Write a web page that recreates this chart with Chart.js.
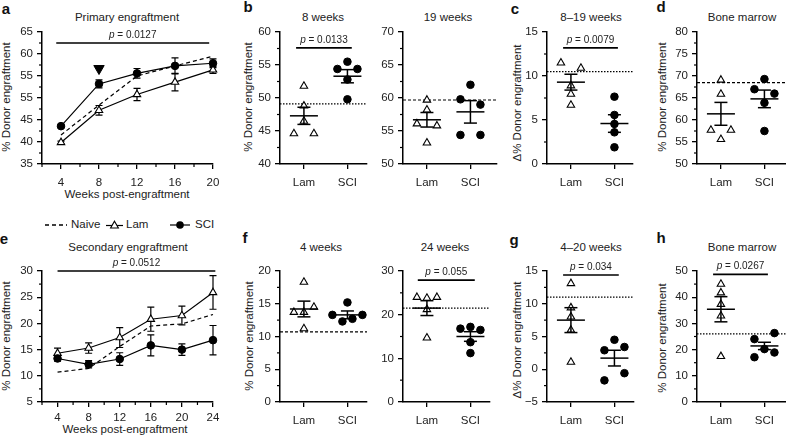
<!DOCTYPE html>
<html>
<head>
<meta charset="utf-8">
<script src="https://cdn.jsdelivr.net/npm/chart.js@4.4.1/dist/chart.umd.min.js"></script>
<style>
  html, body { margin: 0; padding: 0; background: #fff; }
  body { width: 786px; height: 437px; overflow: hidden; position: relative;
         font-family: "Liberation Sans", Arial, Helvetica, sans-serif; color: #222; }
  canvas { position: absolute; }
  .t { position: absolute; white-space: nowrap; transform: translate(-50%, -50%); font-size: 11.5px; line-height: 1; }
  .yt { position: absolute; white-space: nowrap; transform: translate(-50%, -50%) rotate(-90deg); font-size: 11.5px; line-height: 1; }
  .lt { position: absolute; transform: translate(-50%, -50%); font-weight: bold; font-size: 15px; line-height: 1; color: #111; }
  .lg { position: absolute; transform: translateY(-50%); font-size: 11.5px; line-height: 1; top: 225px; }
  svg { position: absolute; }
</style>
</head>
<body>
<!-- panel letters -->
<div class="lt" style="left:6px;top:8px">a</div>
<div class="lt" style="left:248px;top:6px">b</div>
<div class="lt" style="left:515px;top:8px">c</div>
<div class="lt" style="left:661px;top:6px">d</div>
<div class="lt" style="left:4px;top:238px">e</div>
<div class="lt" style="left:245px;top:237px">f</div>
<div class="lt" style="left:514px;top:239px">g</div>
<div class="lt" style="left:661px;top:237px">h</div>

<!-- titles -->
<div class="t" style="left:127px;top:18px">Primary engraftment</div>
<div class="t" style="left:323px;top:18px">8 weeks</div>
<div class="t" style="left:448px;top:18px">19 weeks</div>
<div class="t" style="left:591px;top:18px">8–19 weeks</div>
<div class="t" style="left:742px;top:18px">Bone marrow</div>
<div class="t" style="left:128px;top:248px">Secondary engraftment</div>
<div class="t" style="left:321px;top:248px">4 weeks</div>
<div class="t" style="left:445px;top:248px">24 weeks</div>
<div class="t" style="left:591px;top:248px">4–20 weeks</div>
<div class="t" style="left:742px;top:248px">Bone marrow</div>
<div class="t" style="left:127px;top:195px">Weeks post-engraftment</div>
<div class="t" style="left:125px;top:430px">Weeks post-engraftment</div>

<!-- y axis titles -->
<div class="yt" style="left:7px;top:97px">% Donor engraftment</div>
<div class="yt" style="left:249px;top:97px">% Donor engraftment</div>
<div class="yt" style="left:518px;top:103px">Δ% Donor engraftment</div>
<div class="yt" style="left:663px;top:97px">% Donor engraftment</div>
<div class="yt" style="left:7px;top:336px">% Donor engraftment</div>
<div class="yt" style="left:250px;top:336px">% Donor engraftment</div>
<div class="yt" style="left:518px;top:340px">Δ% Donor engraftment</div>
<div class="yt" style="left:663px;top:338px">% Donor engraftment</div>

<!-- legend -->
<svg style="left:44px;top:219px" width="24" height="12"><line x1="1" y1="6" x2="23" y2="6" stroke="#000" stroke-width="1.3" stroke-dasharray="4,3"/></svg>
<span class="lg" style="left:71px">Naive</span>
<svg style="left:106px;top:219px" width="18" height="12"><line x1="0" y1="6.5" x2="17" y2="6.5" stroke="#000" stroke-width="1.2"/><polygon points="8.5,2.2 12.4,9 4.6,9" fill="#fff" stroke="#000" stroke-width="1.1"/></svg>
<span class="lg" style="left:126px">Lam</span>
<svg style="left:170px;top:219px" width="21" height="12"><line x1="0" y1="6" x2="20" y2="6" stroke="#000" stroke-width="1.2"/><circle cx="10" cy="6" r="3.8" fill="#000"/></svg>
<span class="lg" style="left:195px">SCI</span>

<script>
// ---------------- data ----------------
var weeksPrimary = [4, 8, 12, 16, 20];
var weeksSecondary = [4, 8, 12, 16, 20, 24];
var groupLabels = ["Lam", "SCI"];

// a: primary engraftment over time
var aNaive = [41.6, 48.4, 55.0, 57.3, 59.5];
var aLam = [39.9, 47.2, 50.8, 53.6, 56.4];
var aLamSem = [0.3, 1.1, 1.4, 2.0, 0.8];
var aSci = [43.6, 53.2, 55.6, 57.3, 57.9];
var aSciSem = [0.3, 0.9, 1.1, 1.8, 1.0];
var aArrow = [{ x: 8, y: 56.7 }];
var aP = { y: 62.5, from: 3.5, to: 19.6, text: "0.0127" };
var aYTicks = [35, 40, 45, 50, 55, 60, 65];
var aYLabels = ["35", "40", "45", "55", "55", "60", "65"];

// b: 8 weeks / 19 weeks
var b8Lam = [51.8, 48.8, 46.5, 44.6, 44.6];
var b8Sci = [54.4, 55.5, 54.4, 52.8, 49.8];
var b8Mean = [47.3, 53.3];
var b8Sem = [1.3, 1.0];
var b8Naive = 49.1;
var b8P = { y: 57.6, from: 0.82, to: 2.1, text: "0.0133" };
var b8YTicks = [40, 45, 50, 55, 60];

var b19Lam = [58.2, 59.7, 56.1, 55.8, 53.2];
var b19Sci = [62.0, 59.8, 59.0, 54.4, 54.4];
var b19Mean = [56.7, 57.9];
var b19Sem = [1.1, 1.7];
var b19Naive = 59.7;
var b19YTicks = [50, 55, 60, 65, 70];

// c: change 8-19 weeks
var cLam = [11.5, 10.9, 8.9, 7.95, 6.7];
var cSci = [7.65, 5.57, 4.55, 3.6, 1.9];
var cMean = [9.3, 4.6];
var cSem = [0.9, 1.0];
var cNaive = 10.5;
var cP = { y: 13.2, from: 0.82, to: 2.08, text: "0.0079" };
var cYTicks = [0, 5, 10, 15];

// d: bone marrow (primary)
var dLam = [69.1, 65.9, 57.7, 57.7, 55.6];
var dSci = [69.3, 67.0, 66.0, 63.9, 57.5];
var dMean = [61.4, 64.8];
var dSem = [2.6, 2.0];
var dNaive = 68.5;
var dYTicks = [50, 55, 60, 65, 70, 75, 80];

// e: secondary engraftment over time
var eNaive = [10.7, 11.4, 15.6, 19.5, 19.9, 21.7];
var eLam = [14.3, 15.3, 17.3, 20.8, 21.5, 25.9];
var eLamSem = [1.0, 1.0, 1.9, 2.3, 1.8, 3.2];
var eSci = [13.3, 12.2, 13.2, 15.8, 15.0, 16.8];
var eSciSem = [0.5, 0.7, 1.2, 2.0, 1.1, 2.8];
var eP = { y: 30, from: 4, to: 24.3, text: "0.0512" };
var eYTicks = [5, 10, 15, 20, 25, 30];

// f: 4 weeks / 24 weeks
var f4Lam = [18.3, 13.7, 13.7, 14.5, 11.2];
var f4Sci = [15.2, 13.3, 12.3, 12.7, 13.3];
var f4Mean = [14.2, 13.3];
var f4Sem = [1.2, 0.6];
var f4Naive = 10.7;
var f4YTicks = [0, 5, 10, 15, 20];

var f24Lam = [24.0, 23.8, 24.0, 21.2, 14.7];
var f24Sci = [16.8, 17.2, 16.5, 13.7, 11.2];
var f24Mean = [21.5, 15.0];
var f24Sem = [1.7, 1.1];
var f24Naive = 21.5;
var f24P = { y: 27.9, from: 0.79, to: 2.1, text: "0.055" };
var f24YTicks = [0, 10, 20, 30];

// g: change 4-20 weeks
var gLam = [13.1, 9.4, 8.0, 6.0, 1.1];
var gSci = [4.5, 2.9, 3.4, -1.7, -0.6];
var gMean = [7.5, 1.7];
var gSem = [1.9, 1.2];
var gNaive = 11.0;
var gP = { y: 14.4, from: 0.82, to: 2.1, text: "0.034" };
var gYTicks = [-5, 0, 5, 10, 15];
var gYLabels = ["\u22125", "0", "5", "10", "15"];

// h: bone marrow (secondary)
var hLam = [41.7, 45.0, 37.3, 32.9, 17.4];
var hSci = [24.0, 26.3, 20.2, 17.1, 18.9];
var hMean = [35.4, 21.4];
var hSem = [4.8, 1.4];
var hNaive = 26.0;
var hP = { y: 48.7, from: 0.82, to: 2.08, text: "0.0267" };
var hYTicks = [0, 10, 20, 30, 40, 50];

// ---------------- layout ----------------
var FONT = "'Liberation Sans', Arial, Helvetica, sans-serif";
var Y_BAND = 40, X_BAND = 28, PAD_T = 14, PAD_R = 14;
var X_MIN = 0.45, CAT_PX = 43.5;      // category panels: px per category
var ROW_PX = 8, SLOT_PX = 10;         // dodge of overlapping dots
var MEAN_HALF_PX = 14, CAP_HALF_PX = 6.5;

Chart.defaults.font.family = FONT;
Chart.defaults.font.size = 11.5;
Chart.defaults.color = "#222";

var errorBarPlugin = {
  id: "errorBars",
  beforeDatasetsDraw: function (chart) {
    var ctx = chart.ctx, ys = chart.scales.y;
    chart.data.datasets.forEach(function (ds, i) {
      if (!ds.errors) return;
      var meta = chart.getDatasetMeta(i);
      ctx.save();
      ctx.strokeStyle = "#000";
      ctx.lineWidth = 1.2;
      meta.data.forEach(function (pt, j) {
        var v = ds.data[j].y, e = ds.errors[j];
        var top = ys.getPixelForValue(v + e), bot = ys.getPixelForValue(v - e);
        ctx.beginPath();
        ctx.moveTo(pt.x, top); ctx.lineTo(pt.x, bot);
        ctx.moveTo(pt.x - 3.5, top); ctx.lineTo(pt.x + 3.5, top);
        ctx.moveTo(pt.x - 3.5, bot); ctx.lineTo(pt.x + 3.5, bot);
        ctx.stroke();
      });
      ctx.restore();
    });
  }
};

var pTextPlugin = {
  id: "pText",
  afterDatasetsDraw: function (chart) {
    var ctx = chart.ctx, xs = chart.scales.x, ys = chart.scales.y;
    chart.data.datasets.forEach(function (ds) {
      if (!ds.pText) return;
      var cx = (xs.getPixelForValue(ds.data[0].x) + xs.getPixelForValue(ds.data[1].x)) / 2;
      var y = ys.getPixelForValue(ds.data[0].y) - 5;
      var rest = " = " + ds.pText;
      ctx.save();
      ctx.fillStyle = "#222";
      ctx.textAlign = "left";
      ctx.textBaseline = "alphabetic";
      ctx.font = "italic 10px " + FONT;
      var w1 = ctx.measureText("p").width;
      ctx.font = "10px " + FONT;
      var w2 = ctx.measureText(rest).width;
      var x0 = cx - (w1 + w2) / 2;
      ctx.font = "italic 10px " + FONT;
      ctx.fillText("p", x0, y);
      ctx.font = "10px " + FONT;
      ctx.fillText(rest, x0 + w1, y);
      ctx.restore();
    });
  }
};

var minorTickPlugin = {
  id: "minorTicks",
  afterDraw: function (chart, args, opts) {
    var ctx = chart.ctx, area = chart.chartArea;
    ctx.save();
    ctx.strokeStyle = "#000";
    ctx.lineWidth = 1.2;
    ["x", "y"].forEach(function (key) {
      var step = opts[key];
      if (!step) return;
      var sc = chart.scales[key];
      var majors = sc.ticks.map(function (t) { return t.value; });
      for (var k = 0; ; k++) {
        var v = sc.min + k * step;
        if (v > sc.max + 1e-9) break;
        if (majors.some(function (m) { return Math.abs(m - v) < 1e-6; })) continue;
        var p = sc.getPixelForValue(v);
        ctx.beginPath();
        if (key === "y") { ctx.moveTo(area.left - 3, p); ctx.lineTo(area.left, p); }
        else { ctx.moveTo(p, area.bottom); ctx.lineTo(p, area.bottom + 3); }
        ctx.stroke();
      }
    });
    ctx.restore();
  }
};

Chart.register(errorBarPlugin, pTextPlugin, minorTickPlugin);

function scaleOpts(min, max, values, labels, isX, pad) {
  return {
    type: "linear", min: min, max: max,
    afterBuildTicks: function (axis) {
      axis.ticks = values.map(function (v) { return { value: v }; });
    },
    afterFit: function (axis) {
      if (isX) axis.height = X_BAND; else axis.width = Y_BAND;
    },
    ticks: {
      autoSkip: false, maxRotation: 0, padding: pad, color: "#222",
      font: { size: 11.5 },
      callback: function (v, i) { return labels[i]; }
    },
    grid: { drawOnChartArea: false, drawTicks: true, tickLength: 5, color: "#000", lineWidth: 1.3 },
    border: { display: true, color: "#000", width: 1.5 }
  };
}

function seg(x1, y1, x2, y2, width, dash, order) {
  return {
    data: [{ x: x1, y: y1 }, { x: x2, y: y2 }],
    showLine: true, borderColor: "#000", borderWidth: width, borderDash: dash || [],
    pointRadius: 0, clip: false, order: order
  };
}

function markers(points, style, order) {
  var open = style === "triangle";
  return {
    data: points, showLine: false, clip: false, order: order,
    pointStyle: open ? "triangle" : "circle",
    pointRadius: open ? 4.3 : 3.8,
    pointBackgroundColor: open ? "#fff" : "#000",
    pointBorderColor: "#000",
    pointBorderWidth: open ? 1.1 : 1
  };
}

function pBar(p) {
  var ds = seg(p.from, p.y, p.to, p.y, 1.6, null, 3);
  ds.pText = p.text;
  return ds;
}

function makeChart(box, xScale, yScale, datasets, minor) {
  var c = document.createElement("canvas");
  var w = box.r - box.l + Y_BAND + PAD_R;
  var h = box.b - box.t + PAD_T + X_BAND;
  c.width = w; c.height = h;
  c.style.width = w + "px"; c.style.height = h + "px";
  c.style.left = (box.l - Y_BAND) + "px";
  c.style.top = (box.t - PAD_T) + "px";
  document.body.appendChild(c);
  new Chart(c, {
    type: "scatter",
    data: { datasets: datasets },
    options: {
      responsive: false, animation: false, events: [], devicePixelRatio: 1,
      layout: { padding: { left: 0, top: PAD_T, right: PAD_R, bottom: 0 }, autoPadding: false },
      plugins: { legend: { display: false }, tooltip: { enabled: false }, minorTicks: minor || {} },
      scales: { x: xScale, y: yScale }
    }
  });
}

// spread dots that share a value band into side-by-side slots
function dodge(values, pxPerUnit) {
  var idx = values.map(function (v, i) { return i; });
  idx.sort(function (a, b) { return values[a] - values[b] || a - b; });
  var off = values.map(function () { return 0; });
  var k = 0;
  while (k < idx.length) {
    var row = [idx[k]], start = values[idx[k]];
    k++;
    while (k < idx.length && (values[idx[k]] - start) * pxPerUnit < ROW_PX) { row.push(idx[k]); k++; }
    row.sort(function (a, b) { return a - b; });
    var n = row.length;
    row.forEach(function (p, i) {
      var slot = n === 2 ? (i === 0 ? -1 : 1) : i - (n - 1) / 2;
      off[p] = slot * SLOT_PX / CAT_PX;
    });
  }
  return off;
}

function timePanel(box, weeks, xMax, yMin, yMax, yTicks, yLabels, naive, lam, lamSem, sci, sciSem, p, arrow, xPad) {
  function pts(vals) { return vals.map(function (v, i) { return { x: weeks[i], y: v }; }); }
  var lamDs = markers(pts(lam), "triangle", 1);
  lamDs.showLine = true; lamDs.borderColor = "#000"; lamDs.borderWidth = 1.2; lamDs.errors = lamSem;
  var sciDs = markers(pts(sci), "circle", 0);
  sciDs.showLine = true; sciDs.borderColor = "#000"; sciDs.borderWidth = 1.2; sciDs.errors = sciSem;
  var naiveDs = { data: pts(naive), showLine: true, borderColor: "#000", borderWidth: 1.2,
    borderDash: [4, 3], pointRadius: 0, clip: false, order: 2 };
  var ds = [sciDs, lamDs, naiveDs, pBar(p)];
  if (arrow) {
    var a = markers(arrow, "circle", 0);
    a.pointStyle = "triangle"; a.pointRotation = 180; a.pointRadius = 6;
    ds.push(a);
  }
  makeChart(box,
    scaleOpts(2, xMax, weeks, weeks.map(String), true, xPad),
    scaleOpts(yMin, yMax, yTicks, yLabels, false, 4),
    ds, { x: 2, y: 2.5 });
}

function groupPanel(box, yMin, yMax, yTicks, yLabels, minorY, lam, sci, means, sems, naive, naiveDash, p) {
  var yPx = (box.b - box.t) / (yMax - yMin);
  var xMax = X_MIN + (box.r - box.l) / CAT_PX;
  var mh = MEAN_HALF_PX / CAT_PX, ch = CAP_HALF_PX / CAT_PX;
  var lamOff = dodge(lam, yPx), sciOff = dodge(sci, yPx);
  var ds = [];
  [0, 1].forEach(function (g) {
    var c = g + 1, m = means[g], s = sems[g];
    ds.push(seg(c - mh, m, c + mh, m, 1.5, null, 0));
    ds.push(seg(c, m - s, c, m + s, 1.5, null, 0));
    ds.push(seg(c - ch, m + s, c + ch, m + s, 1.5, null, 0));
    ds.push(seg(c - ch, m - s, c + ch, m - s, 1.5, null, 0));
  });
  ds.push(markers(lam.map(function (v, i) { return { x: 1 + lamOff[i], y: v }; }), "triangle", 1));
  ds.push(markers(sci.map(function (v, i) { return { x: 2 + sciOff[i], y: v }; }), "circle", 1));
  ds.push(seg(X_MIN, naive, xMax, naive, 1.2, naiveDash, 2));
  if (p) ds.push(pBar(p));
  makeChart(box,
    scaleOpts(X_MIN, xMax, [1, 2], groupLabels, true, 7),
    scaleOpts(yMin, yMax, yTicks, yLabels || yTicks.map(String), false, 4),
    ds, { y: minorY });
}

var DOTTED = [1.5, 1.5], DASHED = [3, 2];

// row 1
timePanel({ l: 42, r: 213, t: 32, b: 164 }, weeksPrimary, 20, 35, 65, aYTicks, aYLabels,
  aNaive, aLam, aLamSem, aSci, aSciSem, aP, aArrow, 7);
groupPanel({ l: 280, r: 367, t: 32, b: 164 }, 40, 60, b8YTicks, null, 2.5,
  b8Lam, b8Sci, b8Mean, b8Sem, b8Naive, DOTTED, b8P);
groupPanel({ l: 403, r: 497, t: 32, b: 164 }, 50, 70, b19YTicks, null, 2.5,
  b19Lam, b19Sci, b19Mean, b19Sem, b19Naive, DASHED, null);
groupPanel({ l: 547, r: 633, t: 32, b: 164 }, 0, 15, cYTicks, null, 2.5,
  cLam, cSci, cMean, cSem, cNaive, DOTTED, cP);
groupPanel({ l: 697, r: 786, t: 32, b: 164 }, 50, 80, dYTicks, null, 2.5,
  dLam, dSci, dMean, dSem, dNaive, DASHED, null);

// row 2
timePanel({ l: 42, r: 213, t: 271, b: 402 }, weeksSecondary, 24, 5, 30, eYTicks, eYTicks.map(String),
  eNaive, eLam, eLamSem, eSci, eSciSem, eP, null, 4);
groupPanel({ l: 280, r: 367, t: 271, b: 402 }, 0, 20, f4YTicks, null, 2.5,
  f4Lam, f4Sci, f4Mean, f4Sem, f4Naive, DASHED, null);
groupPanel({ l: 403, r: 490, t: 271, b: 402 }, 0, 30, f24YTicks, null, 5,
  f24Lam, f24Sci, f24Mean, f24Sem, f24Naive, DOTTED, f24P);
groupPanel({ l: 547, r: 634, t: 271, b: 402 }, -5, 15, gYTicks, gYLabels, 2.5,
  gLam, gSci, gMean, gSem, gNaive, DOTTED, gP);
groupPanel({ l: 697, r: 786, t: 271, b: 402 }, 0, 50, hYTicks, null, 5,
  hLam, hSci, hMean, hSem, hNaive, DOTTED, hP);
</script>
</body>
</html>
